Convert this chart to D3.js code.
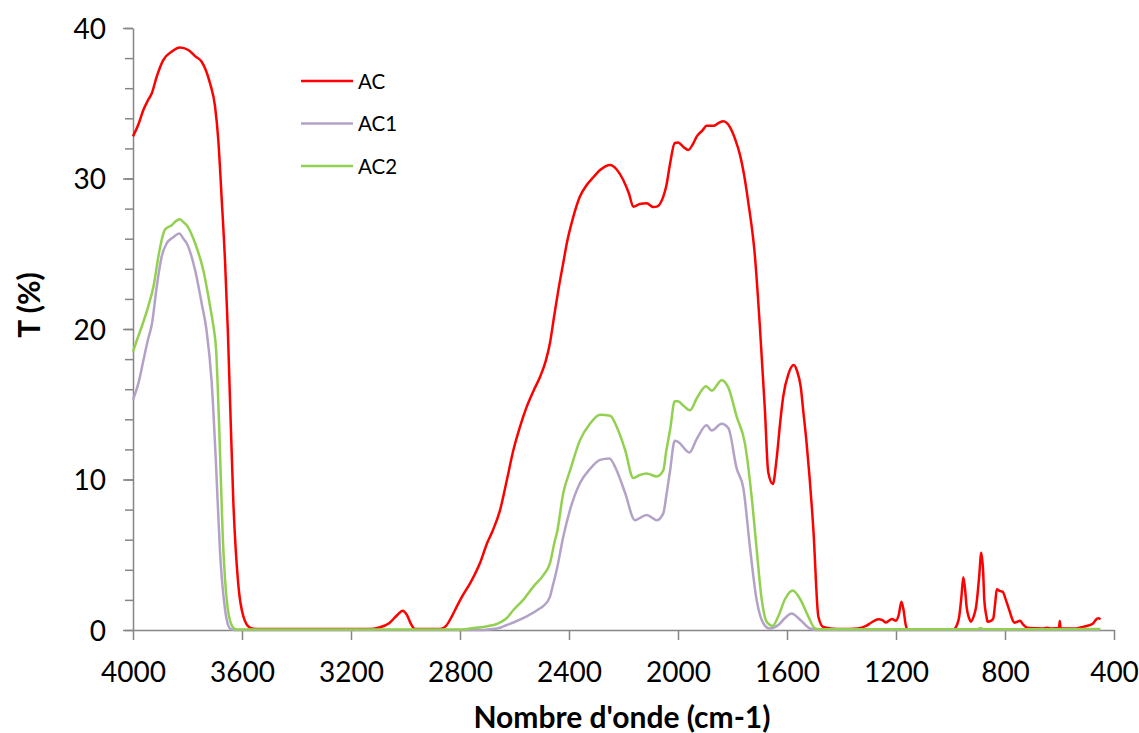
<!DOCTYPE html>
<html>
<head>
<meta charset="utf-8">
<script src="https://cdn.jsdelivr.net/npm/d3@7"></script>
<style>
  html, body { margin: 0; padding: 0; background: #fff; }
  svg { display: block; }
  text { font-family: Lato, "Open Sans", sans-serif; fill: #000; }
</style>
</head>
<body>
<svg id="chart" width="1139" height="733"></svg>
<script>
// ---- Data (wavenumber cm-1, transmittance %) ----
const seriesNames = ["AC", "AC1", "AC2"];
const seriesColors = ["#FF0000", "#B3A2C7", "#92D050"];

const xTicks = [4000, 3600, 3200, 2800, 2400, 2000, 1600, 1200, 800, 400];
const yMajorTicks = [0, 10, 20, 30, 40];
const yMinorTicks = [0, 2, 4, 6, 8, 10, 12, 14, 16, 18, 20, 22, 24, 26, 28, 30, 32, 34, 36, 38, 40];

const acData = [
  [4000,32.8],[3980,33.6],[3962,34.55],[3945,35.2],[3931,35.66],[3913,36.77],[3889,37.87],[3858,38.43],
  [3828,38.7],[3797,38.54],[3770,38.1],[3748,37.76],[3717,36.3],[3699,34.8],[3687,32.56],[3675,28.8],
  [3662,24.4],[3652,19.9],[3644,15.3],[3632,8.6],[3614,3.1],[3595,0.9],[3571,0.15],[3550,0.06],
  [3130,0.06],[3100,0.15],[3060,0.45],[3030,1.0],[3010,1.28],[2995,1.0],[2980,0.4],[2965,0.06],
  [2873,0.06],[2850,0.3],[2830,0.9],[2812,1.55],[2790,2.3],[2763,3.1],[2727,4.43],[2700,5.8],
  [2680,6.6],[2653,7.97],[2630,9.8],[2604,11.96],[2580,13.5],[2555,14.84],[2530,15.9],[2506,16.83],
  [2485,17.9],[2470,19.05],[2455,20.8],[2439,22.6],[2420,24.5],[2408,25.7],[2385,27.4],[2360,28.8],
  [2335,29.57],[2310,30.1],[2286,30.56],[2249,30.9],[2225,30.6],[2201,29.9],[2180,29.0],[2164,28.13],
  [2140,28.3],[2115,28.35],[2090,28.1],[2078,28.13],[2054,28.8],[2043,29.5],[2029,31.0],[2012,32.36],
  [2000,32.4],[1980,32.1],[1962,31.9],[1945,32.3],[1931,32.8],[1910,33.2],[1895,33.5],[1870,33.5],
  [1850,33.7],[1834,33.8],[1809,33.4],[1790,32.6],[1773,31.6],[1758,30.3],[1742,28.4],[1718,24.9],
  [1700,20.3],[1681,14.6],[1669,10.5],[1652,9.7],[1638,11.4],[1625,13.8],[1614,15.5],[1595,17.0],
  [1575,17.6],[1563,17.2],[1550,16.2],[1540,14.5],[1528,12.4],[1503,6.6],[1485,0.9],[1467,0.2],
  [1440,0.1],[1396,0.06],[1340,0.1],[1310,0.27],[1290,0.5],[1264,0.71],[1250,0.65],[1237,0.5],
  [1215,0.73],[1200,0.62],[1190,1.0],[1180,1.88],[1172,1.3],[1165,0.4],[1158,0.03],[990,0.03],
  [975,0.4],[968,0.9],[960,2.2],[953,3.5],[946,2.6],[941,1.55],[932,0.8],[925,0.55],[915,0.9],
  [906,1.55],[895,3.5],[887,5.14],[880,3.8],[876,2.0],[868,0.9],[864,0.55],[852,0.6],[843,0.77],
  [836,1.8],[830,2.7],[820,2.6],[809,2.55],[795,1.9],[784,1.3],[775,0.8],[766,0.49],[755,0.55],
  [745,0.62],[735,0.4],[725,0.22],[711,0.13],[662,0.1],[646,0.15],[630,0.1],[602,0.13],[599,0.6],
  [596,0.12],[540,0.1],[520,0.18],[503,0.25],[478,0.42],[462,0.75],[456,0.78],[450,0.7]
];

const ac1Data = [
  [4000,15.3],[3980,16.4],[3962,17.9],[3945,19.3],[3931,20.3],[3913,22.8],[3895,24.8],[3876,25.7],
  [3852,26.1],[3830,26.35],[3815,26.0],[3803,25.7],[3772,23.9],[3748,21.7],[3730,19.9],[3711,16.4],
  [3695,10.85],[3681,5.3],[3662,1.33],[3644,0.1],[3630,0],[2720,0],[2690,0.05],[2653,0.15],
  [2629,0.33],[2604,0.5],[2555,0.9],[2506,1.44],[2494,1.6],[2470,2.2],[2460,2.9],[2445,4.0],
  [2421,6.2],[2396,8.0],[2360,9.75],[2323,10.7],[2286,11.3],[2252,11.4],[2225,10.6],[2194,9.1],
  [2158,7.3],[2115,7.64],[2078,7.3],[2054,7.75],[2043,8.9],[2029,10.6],[2012,12.57],[2000,12.5],
  [1958,11.8],[1931,12.7],[1895,13.6],[1876,13.25],[1840,13.7],[1815,13.4],[1785,10.75],[1760,9.4],
  [1736,5.5],[1712,2.06],[1687,0.45],[1663,0.1],[1632,0.33],[1607,0.8],[1583,1.09],[1552,0.68],
  [1516,0.1],[1490,0],[450,0]
];

const ac2Data = [
  [4000,18.5],[3985,19.3],[3968,20.15],[3944,21.5],[3925,22.8],[3907,24.8],[3895,25.9],[3883,26.6],
  [3858,26.9],[3840,27.2],[3828,27.3],[3815,27.1],[3803,26.9],[3772,25.7],[3742,23.9],[3717,21.5],
  [3705,20.2],[3695,18.6],[3683,13.1],[3671,6.4],[3656,2.0],[3638,0.33],[3620,0.03],[2800,0.03],
  [2763,0.1],[2700,0.25],[2665,0.4],[2629,0.78],[2604,1.33],[2568,2.0],[2530,2.9],[2494,3.65],
  [2470,4.43],[2451,6.0],[2445,6.4],[2421,9.1],[2396,10.6],[2360,12.6],[2323,13.7],[2286,14.3],
  [2249,14.24],[2225,13.5],[2194,11.96],[2164,10.1],[2140,10.3],[2115,10.4],[2078,10.2],[2054,10.6],
  [2043,11.9],[2029,13.3],[2012,15.2],[2000,15.2],[1980,14.9],[1956,14.6],[1931,15.4],[1897,16.2],
  [1876,15.9],[1840,16.6],[1815,16.1],[1785,14.2],[1754,12.35],[1730,8.9],[1712,5.5],[1693,2.06],
  [1675,0.56],[1653,0.27],[1632,0.91],[1607,2.06],[1579,2.63],[1552,2.06],[1522,0.91],[1497,0.1],
  [1480,0.05],[900,0.05],[890,0.14],[880,0.05],[450,0.06]
];

const allSeries = [acData, ac1Data, ac2Data];

// ---- Layout ----
const svg = d3.select("#chart");
const plotLeft = 133, plotRight = 1114, plotTop = 28, plotBottom = 630;
const axisColor = "#868686";

const x = d3.scaleLinear().domain([4000, 400]).range([plotLeft, plotRight]);
const y = d3.scaleLinear().domain([0, 40]).range([plotBottom, plotTop]);

// Y minor ticks
const yMinor = svg.append("g").attr("transform", `translate(${plotLeft},0)`)
  .call(d3.axisLeft(y).tickValues(yMinorTicks).tickSize(8).tickFormat(""));
yMinor.select(".domain").remove();
yMinor.selectAll("line").attr("stroke", axisColor).attr("stroke-width", 1.5);

// Y major axis
const yAxis = svg.append("g").attr("transform", `translate(${plotLeft},0)`)
  .call(d3.axisLeft(y).tickValues(yMajorTicks).tickSize(10).tickPadding(17).tickSizeOuter(0));
yAxis.select(".domain").attr("stroke", axisColor).attr("stroke-width", 1.5);
yAxis.selectAll("line").attr("stroke", axisColor).attr("stroke-width", 1.5);
yAxis.selectAll("text").attr("font-size", 28).attr("font-family", "Lato").attr("fill", "#000").attr("dy", "0.36em");

// X axis
const xAxis = svg.append("g").attr("transform", `translate(0,${plotBottom})`)
  .call(d3.axisBottom(x).tickValues(xTicks).tickSize(10).tickSizeOuter(0).tickFormat(d3.format("d")));
xAxis.select(".domain").attr("stroke", axisColor).attr("stroke-width", 1.5);
xAxis.selectAll("line").attr("stroke", axisColor).attr("stroke-width", 1.5);
xAxis.selectAll("text").attr("font-size", 28).attr("font-family", "Lato").attr("fill", "#000")
  .attr("y", 52).attr("dy", 0);

// Lines
const line = d3.line().x(d => x(d[0])).y(d => y(d[1])).curve(d3.curveMonotoneX);
allSeries.forEach((data, i) => {
  svg.append("path").datum(data)
    .attr("fill", "none")
    .attr("stroke", seriesColors[i])
    .attr("stroke-width", 2.5)
    .attr("stroke-linejoin", "round")
    .attr("d", line);
});

// Legend
const legendY = [81, 123.5, 166];
seriesNames.forEach((name, i) => {
  svg.append("line").attr("x1", 301).attr("x2", 353).attr("y1", legendY[i]).attr("y2", legendY[i])
    .attr("stroke", seriesColors[i]).attr("stroke-width", 2.5);
  svg.append("text").attr("x", 358).attr("y", legendY[i] + 7.5).attr("font-size", 20.5).text(name);
});

// Axis titles
svg.append("text").attr("x", 622).attr("y", 728).attr("text-anchor", "middle")
  .attr("font-size", 30).attr("font-weight", "bold").text("Nombre d'onde (cm-1)");
svg.append("text").attr("transform", "translate(40,305) rotate(-90)").attr("text-anchor", "middle")
  .attr("font-size", 30).attr("font-weight", "bold").text("T (%)");
</script>
</body>
</html>
